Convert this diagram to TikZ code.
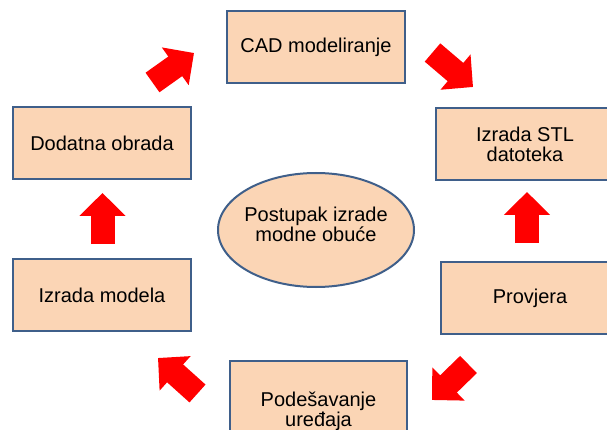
\documentclass[tikz,border=0pt]{standalone}
\usepackage{fontspec}
\setmainfont{Liberation Sans}
\usetikzlibrary{arrows.meta,positioning,shapes.geometric}
\definecolor{boxfill}{HTML}{FBD5B5}
\definecolor{boxline}{HTML}{3F5F8A}
\definecolor{arrowred}{HTML}{FF0000}

\begin{document}
\begin{tikzpicture}
    [
      x=1pt,y=-1pt,
      stage/.style={minimum width=178pt,minimum height=72pt,draw=boxline,fill=boxfill,line width=2pt,align=center,font=\fontsize{20}{20}\selectfont},
      centre/.style={ellipse,minimum width=196pt,minimum height=114pt,inner xsep=-4pt,inner ysep=0pt,text depth=12pt,draw=boxline,fill=boxfill,line width=2pt,align=center,font=\fontsize{20}{20}\selectfont},
      flow/.style={-{Triangle[length=23pt,width=45pt]},line width=24pt,draw=arrowred},
    ]

    \path [use as bounding box,clip] (0,0) rectangle (607,430);

    \node (cad) [stage] at (316,47) {CAD modeliranje};
    \node (stl) [stage] at (525,144) {Izrada STL\\datoteka};
    \node (provjera) [stage] at (530,298) {Provjera};
    \node (podesavanje) [stage,minimum width=177pt,minimum height=100pt] at (318.5,411) {Podešavanje\\uređaja};
    \node (model) [stage] at (102,295) {Izrada modela};
    \node (obrada) [stage] at (102,143) {Dodatna obrada};
    \node (postupak) [centre] at (316,230) {Postupak izrade\\modne obuće};

    \coordinate (obrada-cad-tail) at (152.5,82.5);
    \coordinate (obrada-cad-tip) at (194,53);
    \coordinate (cad-stl-tail) at (432.5,52.5);
    \coordinate (cad-stl-tip) at (473,87);
    \coordinate (provjera-stl-tail) at (527,243);
    \coordinate (provjera-stl-tip) at (527,192);
    \coordinate (provjera-podesavanje-tail) at (468.5,364.5);
    \coordinate (provjera-podesavanje-tip) at (432,400);
    \coordinate (podesavanje-model-tail) at (197.5,393.5);
    \coordinate (podesavanje-model-tip) at (158,358);
    \coordinate (model-obrada-tail) at (102.5,244);
    \coordinate (model-obrada-tip) at (102.5,193);

    \path
    (obrada-cad-tail) edge [flow] (obrada-cad-tip)
    (cad-stl-tail) edge [flow] (cad-stl-tip)

    (provjera-stl-tail) edge [flow] (provjera-stl-tip)
    (provjera-podesavanje-tail) edge [flow] (provjera-podesavanje-tip)

    (podesavanje-model-tail) edge [flow] (podesavanje-model-tip)
    (model-obrada-tail) edge [flow] (model-obrada-tip)
    ;

  \end{tikzpicture}
\end{document}
